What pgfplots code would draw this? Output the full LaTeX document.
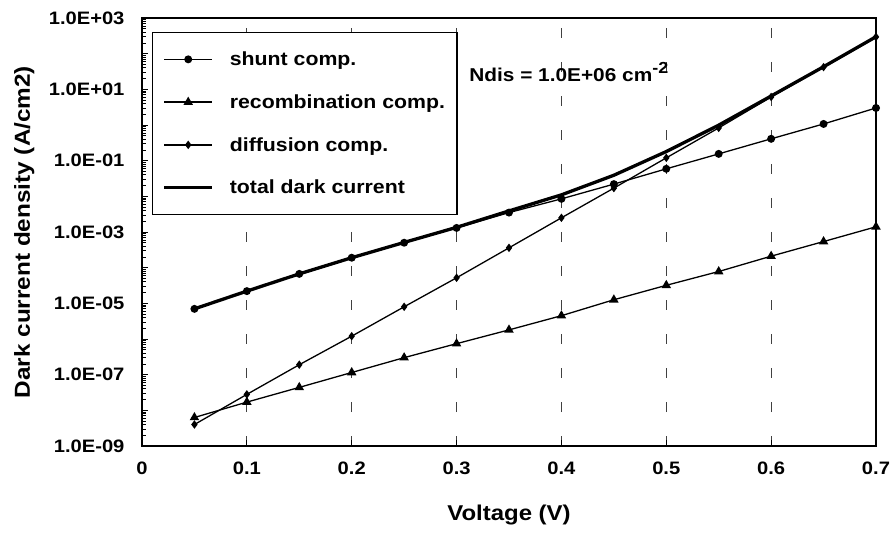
\documentclass[border=0pt]{standalone}
\usepackage{fontspec}
\setmainfont{Liberation Sans}[FakeStretch=1.12]
\usepackage{pgfplots}
\pgfplotsset{compat=1.18}

\begin{document}
\bfseries
\begin{tikzpicture}
\begin{axis}[
    scale only axis,
    width=734pt, height=428pt,
    ymode=log,
    xmin=0, xmax=0.7,
    ymin=1e-9, ymax=1e3,
    xtick={0,0.1,0.2,0.3,0.4,0.5,0.6,0.7},
    xticklabels={0,0.1,0.2,0.3,0.4,0.5,0.6,0.7},
    ytick={1e-9,1e-8,1e-7,1e-6,1e-5,1e-4,1e-3,1e-2,1e-1,1,1e1,1e2,1e3},
    yticklabels={1.0E-09,,1.0E-07,,1.0E-05,,1.0E-03,,1.0E-01,,1.0E+01,,1.0E+03},
    minor ytick={2e-9,3e-9,4e-9,5e-9,6e-9,7e-9,8e-9,9e-9,
      2e-8,3e-8,4e-8,5e-8,6e-8,7e-8,8e-8,9e-8,
      2e-7,3e-7,4e-7,5e-7,6e-7,7e-7,8e-7,9e-7,
      2e-6,3e-6,4e-6,5e-6,6e-6,7e-6,8e-6,9e-6,
      2e-5,3e-5,4e-5,5e-5,6e-5,7e-5,8e-5,9e-5,
      2e-4,3e-4,4e-4,5e-4,6e-4,7e-4,8e-4,9e-4,
      2e-3,3e-3,4e-3,5e-3,6e-3,7e-3,8e-3,9e-3,
      2e-2,3e-2,4e-2,5e-2,6e-2,7e-2,8e-2,9e-2,
      0.2,0.3,0.4,0.5,0.6,0.7,0.8,0.9,
      2,3,4,5,6,7,8,9,
      20,30,40,50,60,70,80,90,
      200,300,400,500,600,700,800,900},
    xtick pos=bottom, ytick pos=left,
    tick align=inside,
    major tick length=6pt, minor tick length=4pt,
    xmajorgrids,
    major grid style={black!75, line width=0.8pt, dash pattern=on 10pt off 24pt},
    axis line style={black, line width=1.3pt},
    tick style={black, line width=0.8pt},
    /pgf/number format/assume math mode=true,
    ticklabel style={font=\fontsize{18}{21}\selectfont\bfseries},
    xticklabel style={yshift=-12pt},
    yticklabel style={xshift=-14pt},
    xlabel={Voltage (V)},
    ylabel={Dark current density (A/cm2)},
    xlabel style={font=\fontsize{21.4}{25}\selectfont\bfseries,
        at={(axis description cs:0.5,-0.175)}, anchor=base},
    ylabel style={font=\fontsize{21.7}{25}\selectfont\bfseries,
        at={(axis description cs:-0.1526,0.5)}, anchor=base},
    legend style={at={(rel axis cs:0.0136,0.967)}, anchor=north west,
        draw=black, line width=1.2pt, font=\fontsize{19}{22}\selectfont\bfseries,
        row sep=23.5pt, inner xsep=10pt, inner ysep=17pt,
        /tikz/every odd column/.append style={column sep=14pt}},
    legend cell align=left,
    legend image code/.code={
        \draw[mark repeat=2,mark phase=2,#1] plot coordinates {(0pt,0pt) (24pt,0pt) (48pt,0pt)};},
    every axis plot/.append style={black},
]
\addplot[line width=1.3pt, mark=*, mark size=3.3pt] coordinates {
(0.05,7e-6) (0.10,2.2e-5) (0.15,6.7e-5) (0.20,1.9e-4) (0.25,5e-4) (0.30,1.3e-3)
(0.35,3.5e-3) (0.40,8.5e-3) (0.45,2.2e-2) (0.50,5.9e-2) (0.55,0.155) (0.60,0.41)
(0.65,1.07) (0.70,3.0)};
\addlegendentry{shunt comp.}
\addplot[line width=1.3pt, mark=triangle*, mark size=4.2pt] coordinates {
(0.05,6.3e-9) (0.10,1.7e-8) (0.15,4.4e-8) (0.20,1.15e-7) (0.25,3e-7) (0.30,7.4e-7)
(0.35,1.8e-6) (0.40,4.5e-6) (0.45,1.26e-5) (0.50,3.2e-5) (0.55,7.8e-5) (0.60,2.1e-4)
(0.65,5.4e-4) (0.70,1.4e-3)};
\addlegendentry{recombination comp.}
\addplot[line width=1.3pt, mark=diamond*, mark size=3.2pt] coordinates {
(0.05,4e-9) (0.10,2.8e-8) (0.15,1.9e-7) (0.20,1.2e-6) (0.25,8e-6) (0.30,5.2e-5)
(0.35,3.6e-4) (0.40,2.5e-3) (0.45,1.7e-2) (0.50,0.12) (0.55,0.83) (0.60,6.1)
(0.65,42) (0.70,295)};
\addlegendentry{diffusion comp.}
\addplot[line width=3.3pt, mark=none] coordinates {
(0.05,7e-6) (0.10,2.2e-5) (0.15,6.7e-5) (0.20,1.9e-4) (0.25,5.1e-4) (0.30,1.35e-3)
(0.35,3.9e-3) (0.40,1.1e-2) (0.45,3.9e-2) (0.50,0.18) (0.55,0.99) (0.60,6.5)
(0.65,43) (0.70,298)};
\addlegendentry{total dark current}
\node[anchor=west, inner sep=0pt, font=\fontsize{18.6}{22}\selectfont\bfseries] at (axis cs:0.312,31)
    {Ndis = 1.0E+06 cm\raisebox{8pt}{\fontsize{16}{18}\selectfont -2}};
\end{axis}
\pgfresetboundingbox
\path[use as bounding box] ([xshift=-142pt,yshift=-88pt]current axis.south west)
    rectangle ([xshift=15pt,yshift=18pt]current axis.north east);
\end{tikzpicture}
\end{document}
